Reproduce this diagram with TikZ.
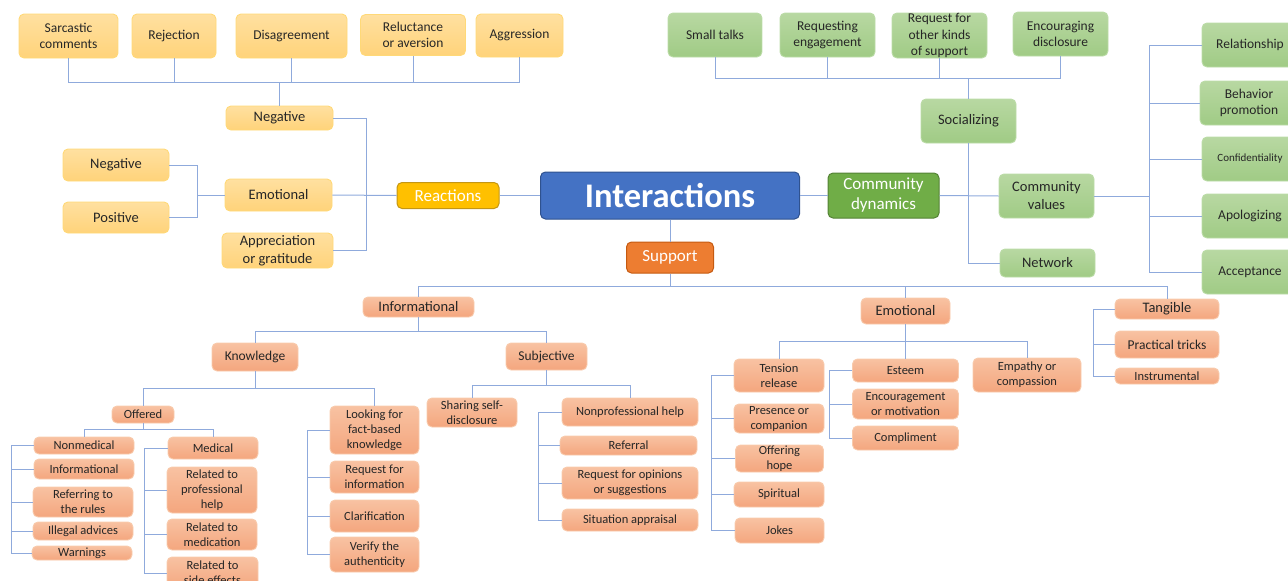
\documentclass[tikz,border=0pt]{standalone}
\usepackage{fontspec}
\setmainfont{Carlito}
\definecolor{linkblue}{HTML}{8FAADC}
\definecolor{txtdark}{HTML}{262626}
\begin{document}
\begin{tikzpicture}[x=1pt, y=-1pt,
    box/.style={rectangle, rounded corners=5pt, inner sep=0pt, align=center,
        line width=0.9pt, text=txtdark},
    ylw/.style={box, draw={rgb,255:red,255;green,217;blue,120},
        top color={rgb,255:red,255;green,224;blue,160}, bottom color={rgb,255:red,255;green,211;blue,122}},
    grn/.style={box, draw={rgb,255:red,188;green,220;blue,168},
        top color={rgb,255:red,184;green,216;blue,162}, bottom color={rgb,255:red,160;green,203;blue,133}},
    org/.style={box, draw={rgb,255:red,248;green,203;blue,173},
        top color={rgb,255:red,248;green,194;blue,162}, bottom color={rgb,255:red,244;green,166;blue,126}},
    hub/.style={box, text=white, font=\fontsize{17}{20}\selectfont, line width=1pt},
    f_top/.style={font=\fontsize{13.5}{16.5}\selectfont},
    f_mid/.style={font=\fontsize{14.5}{18}\selectfont},
    f_sml/.style={font=\fontsize{12.5}{15}\selectfont},
    link/.style={draw=linkblue, line width=1pt}]

\useasboundingbox (0,0) rectangle (1288,581);

% reactions
\node[ylw, f_top, minimum width=99, minimum height=44] (sarc) at (68.5,36) {Sarcastic\\comments};
\node[ylw, f_top, minimum width=84, minimum height=44] (rejec) at (174,36) {Rejection};
\node[ylw, f_top, minimum width=111, minimum height=44] (disag) at (291.5,36) {Disagreement};
\node[ylw, f_top, minimum width=105, minimum height=41] (reluc) at (413,35) {Reluctance\\or aversion};
\node[ylw, f_top, minimum width=87, minimum height=43] (aggr) at (519.5,35.5) {Aggression};
\node[ylw, f_mid, minimum width=107, minimum height=24] (neg_top) at (279.5,118) {Negative};
\node[ylw, f_mid, minimum width=106, minimum height=32] (neg_emo) at (116,165) {Negative};
\node[ylw, f_mid, minimum width=106, minimum height=31] (pos_emo) at (116,217.5) {Positive};
\node[ylw, f_mid, minimum width=107, minimum height=32] (emo_r) at (278.5,195) {Emotional};
\node[ylw, f_mid, minimum width=111, minimum height=35] (appr) at (277.5,250.5) {Appreciation\\or gratitude};
\node[hub, fill={rgb,255:red,255;green,192;blue,0}, draw={rgb,255:red,196;green,150;blue,20},
    minimum width=102, minimum height=26] (reactions) at (448,195.5) {Reactions};

% center
\node[box, text=white, fill={rgb,255:red,68;green,114;blue,196}, draw={rgb,255:red,47;green,82;blue,143},
    line width=1pt, font=\fontsize{34.5}{38}\selectfont\bfseries,
    minimum width=259, minimum height=47] (inter) at (670,195.5) {Interactions};

% community dynamics
\node[hub, fill={rgb,255:red,112;green,173;blue,71}, draw={rgb,255:red,84;green,130;blue,53},
    minimum width=111, minimum height=45] (comm_dyn) at (883.5,195.5) {Community\\dynamics};
\node[grn, f_top, minimum width=94, minimum height=44] (small_t) at (715,35) {Small talks};
\node[grn, f_top, minimum width=95, minimum height=44] (req_eng) at (827.5,35) {Requesting\\engagement};
\node[grn, f_top, minimum width=95, minimum height=45] (req_oth) at (939.5,35.5) {Request for\\other kinds\\of support};
\node[grn, f_top, minimum width=95, minimum height=44] (enc_dis) at (1060.5,34) {Encouraging\\disclosure};
\node[grn, f_mid, minimum width=95, minimum height=44] (social) at (968.5,121) {Socializing};
\node[grn, f_mid, minimum width=95, minimum height=44] (comm_val) at (1046.5,196) {Community\\values};
\node[grn, f_mid, minimum width=95, minimum height=28] (network) at (1047.5,263) {Network};
\node[grn, f_top, minimum width=96, minimum height=44] (relation) at (1250,45) {Relationship};
\node[grn, f_top, minimum width=98, minimum height=44] (behav) at (1249,103) {Behavior\\promotion};
\node[grn, font=\fontsize{11}{13}\selectfont, minimum width=96, minimum height=44] (confid) at (1250,159) {Confidentiality};
\node[grn, f_top, minimum width=96, minimum height=44] (apolog) at (1250,216) {Apologizing};
\node[grn, f_top, minimum width=96, minimum height=44] (accept) at (1250,272) {Acceptance};

% support
\node[hub, fill={rgb,255:red,237;green,125;blue,49}, draw={rgb,255:red,197;green,90;blue,17},
    minimum width=87, minimum height=31] (support) at (670,257.5) {Support};
\node[org, f_mid, minimum width=111, minimum height=20] (inf_top) at (418.5,307) {Informational};
\node[org, f_top, minimum width=86, minimum height=28] (knowl) at (255,357) {Knowledge};
\node[org, f_top, minimum width=81, minimum height=27] (subj) at (546.5,356.5) {Subjective};
\node[org, f_sml, minimum width=62, minimum height=17] (offered) at (143,414.5) {Offered};
\node[org, f_sml, minimum width=100, minimum height=17] (nonmed) at (84,445.5) {Nonmedical};
\node[org, f_sml, minimum width=100, minimum height=20] (inf_small) at (84,469) {Informational};
\node[org, f_sml, minimum width=100, minimum height=30] (refer) at (83,502) {Referring to\\the rules};
\node[org, f_sml, minimum width=100, minimum height=18] (illegal) at (83,531) {Illegal advices};
\node[org, f_sml, minimum width=100, minimum height=14] (warn) at (82,553) {Warnings};
\node[org, f_sml, minimum width=90, minimum height=22] (medical) at (213,448) {Medical};
\node[org, f_sml, minimum width=90, minimum height=46] (rel_prof) at (212,490) {Related to\\professional\\help};
\node[org, f_sml, minimum width=90, minimum height=31] (rel_med) at (212,534.5) {Related to\\medication};
\node[org, f_sml, minimum width=91, minimum height=32] (rel_side) at (212.5,573) {Related to\\side effects};
\node[org, f_sml, minimum width=89, minimum height=48] (looking) at (374.5,430) {Looking for\\fact-based\\knowledge};
\node[org, f_sml, minimum width=89, minimum height=32] (req_info) at (374.5,477) {Request for\\information};
\node[org, f_sml, minimum width=89, minimum height=32] (clarif) at (374.5,516) {Clarification};
\node[org, f_sml, minimum width=89, minimum height=35] (verify) at (374.5,554.5) {Verify the\\authenticity};
\node[org, f_sml, minimum width=90, minimum height=29] (sharing) at (472,412.5) {Sharing self-\\disclosure};
\node[org, f_sml, minimum width=136, minimum height=28] (nonprof) at (630,412) {Nonprofessional help};
\node[org, f_sml, minimum width=137, minimum height=19] (referral) at (628.5,445.5) {Referral};
\node[org, f_sml, minimum width=136, minimum height=32] (req_opin) at (630,483) {Request for opinions\\or suggestions};
\node[org, f_sml, minimum width=136, minimum height=22] (sit_app) at (630,520) {Situation appraisal};
\node[org, f_mid, minimum width=89, minimum height=26] (emo_o) at (905.5,311) {Emotional};
\node[org, f_sml, minimum width=90, minimum height=33] (tension) at (779,375.5) {Tension\\release};
\node[org, f_sml, minimum width=90, minimum height=29] (presence) at (779,418.5) {Presence or\\companion};
\node[org, f_sml, minimum width=88, minimum height=27] (hope) at (779.5,458.5) {Offering\\hope};
\node[org, f_sml, minimum width=90, minimum height=25] (spirit) at (779,494.5) {Spiritual};
\node[org, f_sml, minimum width=89, minimum height=25] (jokes) at (779.5,530.5) {Jokes};
\node[org, f_sml, minimum width=106, minimum height=23] (esteem) at (905.5,370.5) {Esteem};
\node[org, f_sml, minimum width=106, minimum height=30] (encour) at (905.5,404) {Encouragement\\or motivation};
\node[org, f_sml, minimum width=106, minimum height=24] (compl) at (905.5,438) {Compliment};
\node[org, f_sml, minimum width=108, minimum height=34] (empathy) at (1027,375) {Empathy or\\compassion};
\node[org, f_mid, minimum width=104, minimum height=20] (tangible) at (1167,309) {Tangible};
\node[org, f_top, minimum width=104, minimum height=27] (practical) at (1167,344.5) {Practical tricks};
\node[org, f_sml, minimum width=104, minimum height=16] (instrum) at (1167,376) {Instrumental};

% bus points
\coordinate (neg_bus) at (279.5,82);
\coordinate (rct_bus) at (366,195);
\coordinate (emr_bus) at (197,195);
\coordinate (soc_bus) at (968.5,78);
\coordinate (cv_bus) at (1149,196);
\coordinate (sup_bus) at (670,286);
\coordinate (inf_bus) at (418.5,331);
\coordinate (kn_bus) at (255,388);
\coordinate (sub_bus) at (546.5,385);
\coordinate (off_bus) at (143,429);
\coordinate (nm_bus) at (11,445.5);
\coordinate (md_bus) at (144,448);
\coordinate (lk_bus) at (307,430);
\coordinate (np_bus) at (538,412);
\coordinate (emo_bus) at (905.5,341);
\coordinate (tn_bus) at (711,375.5);
\coordinate (es_bus) at (829,370.5);
\coordinate (tg_bus) at (1093,309);

% reactions links
\draw[link] (sarc.south) |- (neg_bus) -- (neg_top.north);
\draw[link] (rejec.south) |- (neg_bus);
\draw[link] (disag.south) |- (neg_bus);
\draw[link] (reluc.south) |- (neg_bus);
\draw[link] (aggr.south) |- (neg_bus);
\draw[link] (neg_top.east) -| (rct_bus);
\draw[link] (appr.east) -| (rct_bus);
\draw[link] (emo_r.east) -- (reactions.west);
\draw[link] (neg_emo.east) -| (emr_bus);
\draw[link] (pos_emo.east) -| (emr_bus);
\draw[link] (emr_bus) -- (emo_r.west);
\draw[link] (reactions.east) -- (inter.west);

% community links
\draw[link] (inter.east) -- (comm_dyn.west);
\draw[link] (comm_dyn.east) -- (comm_val.west);
\draw[link] (social.south) |- (network.west);
\draw[link] (small_t.south) |- (soc_bus) -- (social.north);
\draw[link] (req_eng.south) |- (soc_bus);
\draw[link] (req_oth.south) |- (soc_bus);
\draw[link] (enc_dis.south) |- (soc_bus);
\draw[link] (comm_val.east) -- (cv_bus);
\draw[link] (cv_bus) |- (relation.west);
\draw[link] (cv_bus) |- (behav.west);
\draw[link] (cv_bus) |- (confid.west);
\draw[link] (cv_bus) |- (apolog.west);
\draw[link] (cv_bus) |- (accept.west);

% support links
\draw[link] (inter.south) -- (support.north);
\draw[link] (support.south) -- (sup_bus);
\draw[link] (sup_bus) -| (inf_top.north);
\draw[link] (sup_bus) -| (emo_o.north);
\draw[link] (sup_bus) -| (tangible.north);
\draw[link] (inf_top.south) -- (inf_bus);
\draw[link] (inf_bus) -| (knowl.north);
\draw[link] (inf_bus) -| (subj.north);
\draw[link] (knowl.south) -- (kn_bus);
\draw[link] (kn_bus) -| (offered.north);
\draw[link] (kn_bus) -| (looking.north);
\draw[link] (offered.south) -- (off_bus);
\draw[link] (off_bus) -| (nonmed.north);
\draw[link] (off_bus) -| (medical.north);
\draw[link] (nonmed.west) -- (nm_bus);
\draw[link] (nm_bus) |- (inf_small.west);
\draw[link] (nm_bus) |- (refer.west);
\draw[link] (nm_bus) |- (illegal.west);
\draw[link] (nm_bus) |- (warn.west);
\draw[link] (medical.west) -- (md_bus);
\draw[link] (md_bus) |- (rel_prof.west);
\draw[link] (md_bus) |- (rel_med.west);
\draw[link] (md_bus) |- (rel_side.west);
\draw[link] (looking.west) -- (lk_bus);
\draw[link] (lk_bus) |- (req_info.west);
\draw[link] (lk_bus) |- (clarif.west);
\draw[link] (lk_bus) |- (verify.west);
\draw[link] (subj.south) -- (sub_bus);
\draw[link] (sub_bus) -| (sharing.north);
\draw[link] (sub_bus) -| (nonprof.north);
\draw[link] (nonprof.west) -- (np_bus);
\draw[link] (np_bus) |- (referral.west);
\draw[link] (np_bus) |- (req_opin.west);
\draw[link] (np_bus) |- (sit_app.west);
\draw[link] (emo_o.south) -- (emo_bus);
\draw[link] (emo_bus) -| (tension.north);
\draw[link] (emo_bus) -- (esteem.north);
\draw[link] (emo_bus) -| (empathy.north);
\draw[link] (tension.west) -- (tn_bus);
\draw[link] (tn_bus) |- (presence.west);
\draw[link] (tn_bus) |- (hope.west);
\draw[link] (tn_bus) |- (spirit.west);
\draw[link] (tn_bus) |- (jokes.west);
\draw[link] (esteem.west) -- (es_bus);
\draw[link] (es_bus) |- (encour.west);
\draw[link] (es_bus) |- (compl.west);
\draw[link] (tangible.west) -- (tg_bus);
\draw[link] (tg_bus) |- (practical.west);
\draw[link] (tg_bus) |- (instrum.west);
\end{tikzpicture}
\end{document}
